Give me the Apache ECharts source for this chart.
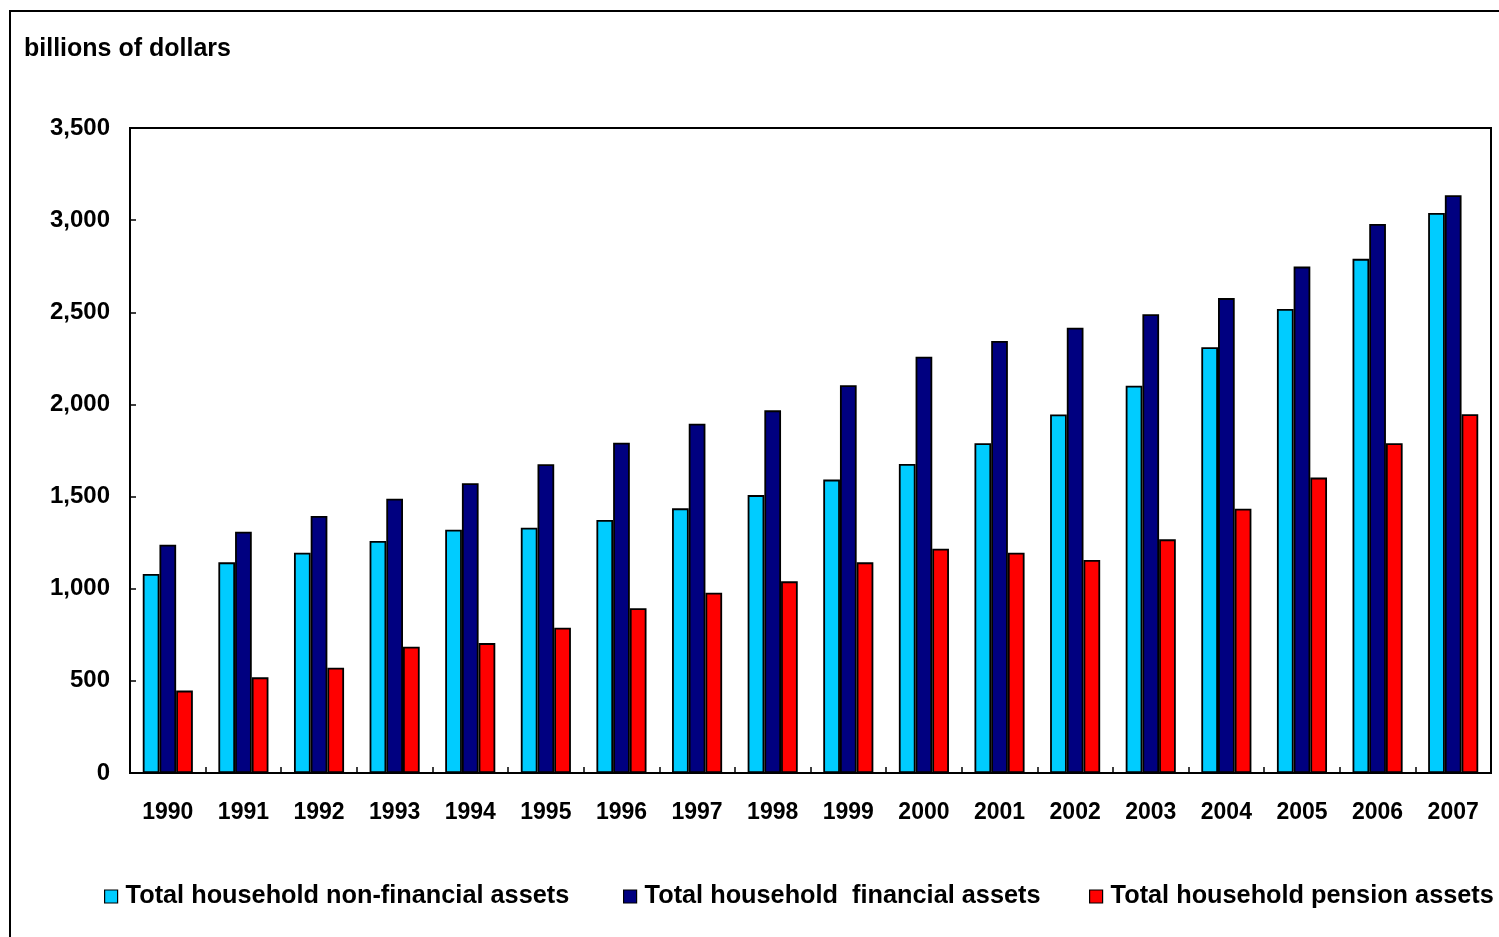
<!DOCTYPE html>
<html>
<head>
<meta charset="utf-8">
<script src="https://cdn.jsdelivr.net/npm/echarts@6/dist/echarts.min.js"></script>
<style>
  html, body { margin: 0; padding: 0; background: #fff; }
  #chart { width: 1499px; height: 937px; }
</style>
</head>
<body>
<div id="chart"></div>
<script>
// ---- data ----
const years = ['1990','1991','1992','1993','1994','1995','1996','1997','1998','1999','2000','2001','2002','2003','2004','2005','2006','2007'];
const nonFinancial = [1080, 1143, 1195, 1259, 1320, 1331, 1373, 1436, 1508, 1592, 1677, 1789, 1946, 2102, 2310, 2518, 2790, 3039];
const financial    = [1239, 1309, 1395, 1488, 1572, 1675, 1792, 1895, 1968, 2104, 2259, 2344, 2416, 2489, 2577, 2748, 2979, 3135];
const pension      = [447, 519, 571, 685, 705, 788, 894, 978, 1040, 1143, 1217, 1195, 1156, 1268, 1434, 1603, 1790, 1947];
const seriesNames = ['Total household non-financial assets', 'Total household  financial assets', 'Total household pension assets'];
const yTicks = [0, 500, 1000, 1500, 2000, 2500, 3000, 3500];
const unitLabel = 'billions of dollars';

const FONT = '"Liberation Sans", Arial, sans-serif';
const colors = ['#00CCFF', '#000080', '#FF0000'];

function fmt(v) {
  return String(v).replace(/\B(?=(\d{3})+(?!\d))/g, ',');
}

const chart = echarts.init(document.getElementById('chart'), null, { renderer: 'canvas' });

const legendX = [104, 623, 1089];
const legends = seriesNames.map((n, i) => ({
  data: [n],
  left: legendX[i],
  top: 884,
  padding: 0,
  orient: 'horizontal',
  itemWidth: 13,
  itemHeight: 13,
  itemGap: 0,
  icon: 'rect',
  selectedMode: false,
  itemStyle: { borderColor: '#000', borderWidth: 1.2 },
  textStyle: { fontFamily: FONT, fontWeight: 'bold', fontSize: 25.3, color: '#000', padding: [0, 0, 0, 3] }
}));

const mkSeries = (name, data, color) => ({
  name: name,
  type: 'bar',
  data: data,
  barWidth: 16.7,
  barGap: '0%',
  itemStyle: { color: color, borderColor: '#000', borderWidth: 1.8 },
  emphasis: { disabled: true },
  animation: false
});

chart.setOption({
  animation: false,
  backgroundColor: '#fff',
  title: {
    text: unitLabel,
    left: 24,
    top: 37,
    padding: 0,
    textStyle: { fontFamily: FONT, fontWeight: 'bold', fontSize: 25, color: '#000' }
  },
  legend: legends,
  grid: {
    left: 130, right: 8, top: 128, bottom: 164,
    show: true, borderColor: '#000', borderWidth: 2, backgroundColor: '#fff',
    containLabel: false
  },
  xAxis: {
    type: 'category',
    data: years,
    boundaryGap: true,
    axisLine: { show: true, lineStyle: { color: '#000', width: 2 } },
    axisTick: { show: true, inside: true, length: 6, alignWithLabel: false, lineStyle: { color: '#000', width: 1.5 } },
    axisLabel: { fontFamily: FONT, fontWeight: 'bold', fontSize: 23, color: '#000', margin: 28, interval: 0 },
    splitLine: { show: false }
  },
  yAxis: {
    type: 'value',
    min: yTicks[0],
    max: yTicks[yTicks.length - 1],
    interval: yTicks[1] - yTicks[0],
    axisLine: { show: true, lineStyle: { color: '#000', width: 2 } },
    axisTick: { show: true, inside: true, length: 6, lineStyle: { color: '#000', width: 1.5 } },
    axisLabel: { fontFamily: FONT, fontWeight: 'bold', fontSize: 24, color: '#000', margin: 20, padding: [9, 0, 0, 0], formatter: v => fmt(v) },
    splitLine: { show: false }
  },
  graphic: [{
    type: 'rect',
    shape: { x: 10, y: 11, width: 1600, height: 1000 },
    style: { fill: null, stroke: '#000', lineWidth: 2 },
    silent: true,
    z: 100
  }],
  series: [
    mkSeries(seriesNames[0], nonFinancial, colors[0]),
    mkSeries(seriesNames[1], financial, colors[1]),
    mkSeries(seriesNames[2], pension, colors[2])
  ]
});
</script>
</body>
</html>
